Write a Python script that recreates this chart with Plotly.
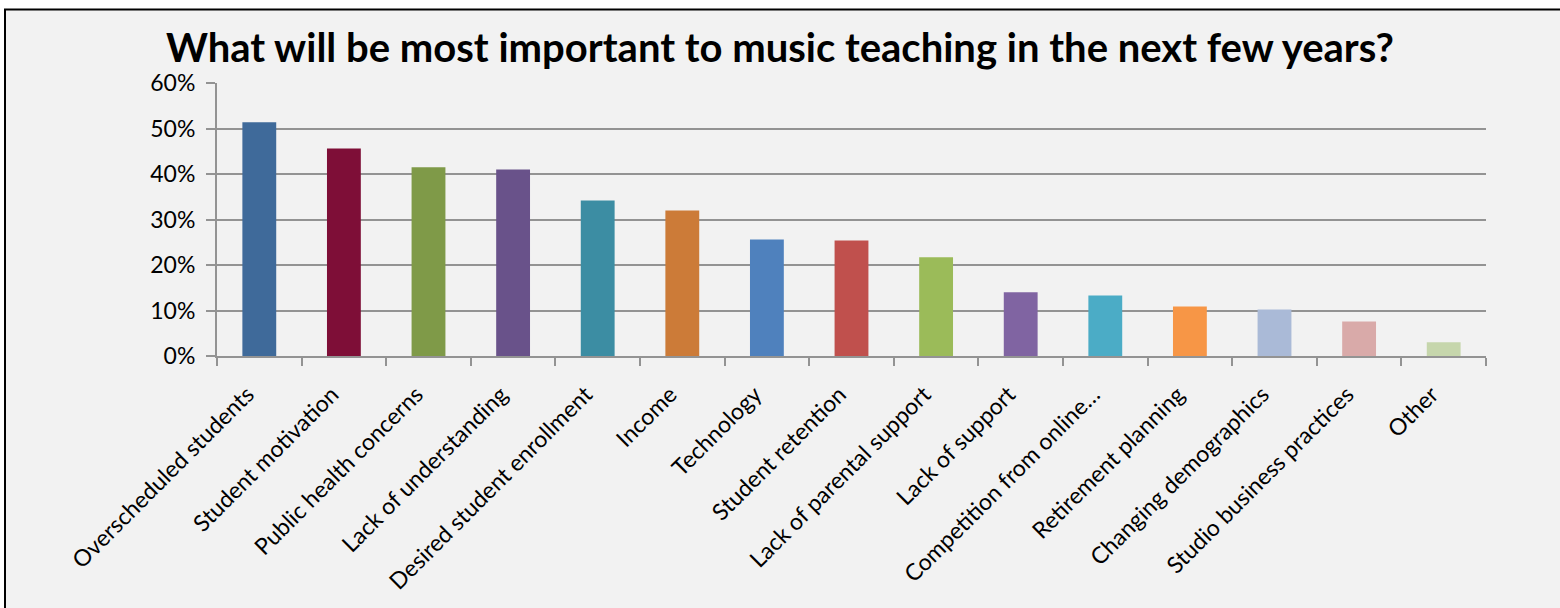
import plotly.graph_objects as go

categories = [
    "Overscheduled students", "Student motivation", "Public health concerns",
    "Lack of understanding", "Desired student enrollment", "Income", "Technology",
    "Student retention", "Lack of parental support", "Lack of support",
    "Competition from online…", "Retirement planning", "Changing demographics",
    "Studio business practices", "Other",
]
values = [0.514, 0.456, 0.415, 0.410, 0.342, 0.320, 0.256, 0.254, 0.217,
          0.140, 0.133, 0.109, 0.102, 0.076, 0.030]
colors = ["#3F6A9A", "#7E0E37", "#7F9A48", "#69528A", "#3C8DA3", "#CC7B38",
          "#4F81BD", "#C0504D", "#9BBB59", "#8064A2", "#4BACC6", "#F79646",
          "#AABAD7", "#D9AAA9", "#C6D6AC"]
y_ticks = [0, 0.1, 0.2, 0.3, 0.4, 0.5, 0.6]
y_tick_text = ["0%", "10%", "20%", "30%", "40%", "50%", "60%"]

W, H = 1560, 608
L, R, T, B = 217, 74, 83, 252
pw, ph = W - L - R, H - T - B

def px_x(x):
    return (x - L) / pw

def px_y(y):
    return (H - B - y) / ph

fig = go.Figure(go.Bar(x=categories, y=values, marker_color=colors,
                       marker_line_width=0, width=0.4))

# chart frame
fig.add_shape(type="rect", xref="paper", yref="paper",
              x0=px_x(5), x1=px_x(1570), y0=px_y(620), y1=px_y(9.5),
              fillcolor="#F2F2F2", line=dict(color="#000000", width=2),
              layer="below")

fig.update_layout(
    width=W, height=H,
    margin=dict(l=L, r=R, t=T, b=B),
    paper_bgcolor="white", plot_bgcolor="#F2F2F2",
    font=dict(family="Lato", color="#000000"),
    title=dict(text="<b>What will be most important to music teaching in the next few years?</b>",
               x=0.5, xanchor="center", y=1 - 48 / H, yanchor="middle",
               font=dict(size=40, family="Lato", color="#000000")),
    showlegend=False,
    bargap=0.6,
)
fig.update_yaxes(range=[0, 0.6], tickvals=y_ticks, ticktext=y_tick_text,
                 showgrid=True, gridcolor="#939393", gridwidth=2,
                 showline=True, linecolor="#939393", linewidth=2,
                 ticks="outside", ticklen=9, tickcolor="#939393", tickwidth=2,
                 tickfont=dict(size=23), ticklabelstandoff=6, zeroline=False)
fig.update_xaxes(showgrid=False, showline=True, linecolor="#939393", linewidth=2,
                 ticks="outside", ticklen=8, tickcolor="#939393", tickwidth=2,
                 tickson="boundaries", tickangle=-45, tickfont=dict(size=23),
                 ticklabelstandoff=14, ticklabelshift=-12)

fig.write_html("out.html")
